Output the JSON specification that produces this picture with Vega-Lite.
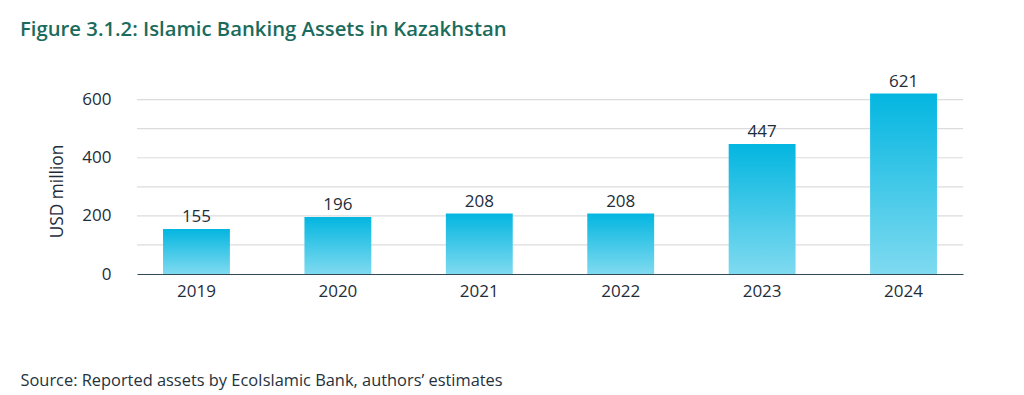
{
  "$schema": "https://vega.github.io/schema/vega-lite/v6.json",
  "width": 826,
  "height": 186,
  "autosize": {"type": "none"},
  "padding": {"left": 137, "top": 88, "right": 61, "bottom": 121},
  "background": "white",
  "config": {
    "font": "Open Sans",
    "view": {"stroke": null}
  },
  "title": {
    "text": "Figure 3.1.2: Islamic Banking Assets in Kazakhstan",
    "anchor": "start",
    "frame": "group",
    "dx": -117,
    "dy": -28,
    "fontSize": 20.3,
    "fontWeight": 600,
    "color": "#1b6b5c",
    "font": "Open Sans"
  },
  "data": {
    "values": [
      {"year": "2019", "value": 155},
      {"year": "2020", "value": 196},
      {"year": "2021", "value": 208},
      {"year": "2022", "value": 208},
      {"year": "2023", "value": 447},
      {"year": "2024", "value": 621}
    ]
  },
  "encoding": {
    "x": {
      "field": "year",
      "type": "nominal",
      "scale": {"paddingInner": 0.527, "paddingOuter": 0.184},
      "axis": {
        "title": "Source: Reported assets by EcoIslamic Bank, authors’ estimates",
        "titleAnchor": "start",
        "titleAlign": "left",
        "titleX": -117,
        "titleY": 111,
        "titleBaseline": "alphabetic",
        "titleFontSize": 16.4,
        "titleFontWeight": "normal",
        "titleColor": "#25323d",
        "labelAngle": 0,
        "labelFontSize": 17,
        "labelColor": "#1e2d3a",
        "labelPadding": 9,
        "ticks": false,
        "domainColor": "#2f4a56",
        "domainWidth": 1
      }
    },
    "y": {
      "field": "value",
      "type": "quantitative",
      "scale": {"domain": [0, 640], "nice": false},
      "axis": {
        "title": "USD million",
        "titleFontSize": 17.3,
        "titleFontWeight": "normal",
        "titleColor": "#1e2d3a",
        "titleX": -75,
        "titleY": 103,
        "titleBaseline": "alphabetic",
        "values": [0, 200, 400, 600],
        "labelFontSize": 17,
        "labelColor": "#1e2d3a",
        "labelPadding": 26,
        "ticks": false,
        "domain": false,
        "grid": false
      }
    }
  },
  "layer": [
    {
      "mark": {"type": "rule", "color": "#dcdcdc", "strokeWidth": 1.2},
      "data": {"values": [{"g": 100}, {"g": 200}, {"g": 300}, {"g": 400}, {"g": 500}, {"g": 600}]},
      "encoding": {
        "x": null,
        "y": {"field": "g", "type": "quantitative"}
      }
    },
    {
      "mark": {
        "type": "bar",
        "color": {
          "gradient": "linear",
          "x1": 0, "y1": 0, "x2": 0, "y2": 1,
          "stops": [
            {"offset": 0, "color": "#03b6e0"},
            {"offset": 1, "color": "#7fdaf0"}
          ]
        }
      }
    },
    {
      "mark": {"type": "text", "baseline": "alphabetic", "dy": -7, "fontSize": 17, "color": "#1e2d3a"},
      "encoding": {"text": {"field": "value", "type": "quantitative"}}
    }
  ]
}
